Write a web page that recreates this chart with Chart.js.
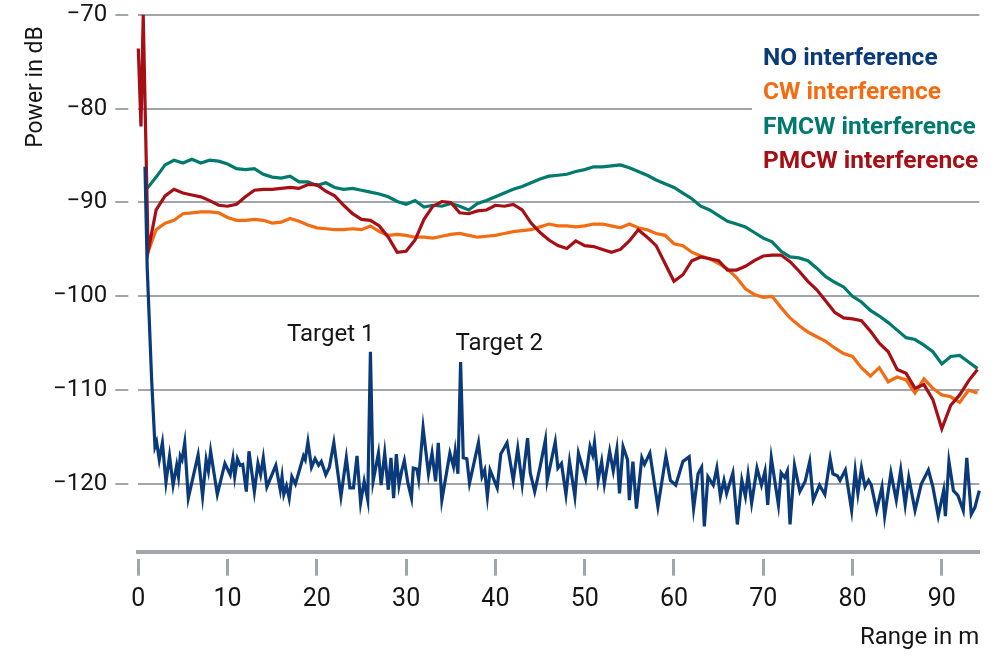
<!DOCTYPE html>
<html>
<head>
<meta charset="utf-8">
<script src="https://cdn.jsdelivr.net/npm/chart.js@4.4.1/dist/chart.umd.min.js"></script>
<style>
  html, body { margin: 0; padding: 0; background: #fff; }
</style>
</head>
<body>
<canvas id="myChart" width="1000" height="669"></canvas>
<script>
var ctx = document.getElementById("myChart");

var fontFamily = "Roboto, 'Liberation Sans', sans-serif";
var gray = "#a0a6a9";
var textColor = "#151515";

// legend / series
var seriesNames = ["NO interference", "CW interference", "FMCW interference", "PMCW interference"];
var seriesColors = ["#0a3a7a", "#f36c12", "#00796f", "#a50f15"];

// whole metres for the interference curves
var meters = [];
for (var m = 1; m <= 94; m++) meters.push(m);

var cwRange = meters;
var cwPower = [
  -95.5, -92.9, -92.2, -91.9, -91.2, -91.1, -91.0, -91.0, -91.1, -91.6,
  -91.9, -91.9, -91.8, -91.9, -92.2, -92.1, -91.7, -92.0, -92.4, -92.7,
  -92.8, -92.9, -92.9, -92.8, -92.9, -92.5, -93.1, -93.5, -93.4, -93.5,
  -93.7, -93.7, -93.8, -93.6, -93.4, -93.3, -93.5, -93.7, -93.6, -93.5,
  -93.3, -93.1, -93.0, -92.9, -92.6, -92.3, -92.5, -92.5, -92.6, -92.5,
  -92.3, -92.3, -92.5, -92.7, -92.3, -92.7, -92.9, -93.3, -93.5, -94.4,
  -94.6, -95.3, -95.7, -96.0, -96.5, -97.1, -98.0, -99.2, -99.8, -100.1,
  -100.0, -101.2, -102.3, -103.1, -103.8, -104.3, -104.8, -105.5, -106.1, -106.4,
  -107.6, -108.5, -107.6, -109.1, -108.6, -108.9, -110.3, -108.8, -109.8, -110.5,
  -110.7, -111.3, -110.0, -110.3
];

var fmcwRange = meters;
var fmcwPower = [
  -88.5, -87.3, -86.0, -85.5, -85.8, -85.4, -85.8, -85.5, -85.6, -85.9,
  -86.4, -86.5, -86.4, -87.0, -87.3, -87.4, -87.2, -87.8, -87.8, -88.2,
  -87.9, -88.4, -88.6, -88.5, -88.7, -88.9, -89.1, -89.4, -89.9, -90.2,
  -89.8, -90.5, -90.3, -90.4, -90.1, -90.4, -90.8, -90.1, -89.8, -89.4,
  -89.0, -88.6, -88.3, -87.9, -87.5, -87.2, -87.1, -87.0, -86.7, -86.5,
  -86.2, -86.2, -86.1, -86.0, -86.3, -86.7, -87.1, -87.6, -88.0, -88.4,
  -89.0, -89.6, -90.4, -90.8, -91.4, -92.0, -92.3, -92.6, -93.2, -93.8,
  -94.2, -95.2, -95.8, -95.9, -96.2, -97.0, -97.9, -98.5, -99.0, -100.0,
  -100.6, -101.5, -102.1, -102.8, -103.6, -104.4, -104.6, -105.2, -105.9, -107.2,
  -106.4, -106.3, -107.0, -107.7
];

var pmcwRange = [0, 0.3, 0.55, 1.1].concat(meters.slice(1));
var pmcwPower = [
  -73.6, -81.9, -70.0, -95.2,
  -90.8, -89.3, -88.6, -89.0, -89.2, -89.4, -89.8, -90.3, -90.4,
  -90.2, -89.4, -88.7, -88.6, -88.6, -88.5, -88.4, -88.5, -88.1, -88.1,
  -88.8, -89.3, -90.3, -91.2, -91.8, -91.9, -92.5, -93.7, -95.3, -95.2,
  -94.0, -91.8, -90.4, -89.9, -90.0, -91.1, -91.2, -90.9, -90.8, -90.3,
  -90.4, -90.2, -90.8, -92.2, -93.2, -94.0, -94.6, -94.9, -94.1, -94.6,
  -94.7, -95.0, -95.3, -95.0, -94.1, -92.9, -93.7, -94.6, -96.5, -98.4,
  -97.7, -96.2, -95.8, -96.0, -96.2, -97.2, -97.2, -96.8, -96.2, -95.7,
  -95.6, -95.6, -96.3, -97.3, -98.4, -99.3, -100.5, -101.7, -102.3, -102.4,
  -102.6, -103.7, -105.0, -105.9, -107.8, -108.2, -109.8, -109.4, -111.0, -114.1,
  -111.6, -110.5, -109.0, -107.8
];

var noRange = [
  0.75, 1.0, 1.5, 1.87, 2.05, 2.35, 2.7, 3.1, 3.5, 3.9,
  4.3, 4.5, 4.7, 4.9, 5.2, 5.6, 6.7, 7.2, 7.6, 7.85,
  8.1, 8.85, 9.7, 10.3, 10.6, 10.8, 11.1, 11.4, 11.7, 12.1,
  12.4, 13.0, 13.4, 13.7, 14.0, 14.4, 15.4, 15.9, 16.1, 16.3,
  16.6, 16.9, 17.2, 17.6, 18.5, 18.7, 19.0, 19.4, 19.8, 20.2,
  20.5, 21.0, 21.4, 21.9, 22.7, 23.3, 23.7, 24.1, 24.5, 24.9,
  25.3, 25.7, 26.0, 26.3, 26.9, 27.2, 27.6, 28.0, 28.3, 28.6,
  28.9, 29.2, 29.5, 29.8, 30.2, 30.6, 30.8, 31.2, 31.4, 31.9,
  32.5, 32.9, 33.3, 33.6, 34.0, 34.9, 35.3, 35.5, 35.8, 36.1,
  36.4, 36.8, 37.1, 38.1, 38.5, 38.8, 39.1, 39.4, 40.2, 40.6,
  41.3, 42.0, 42.5, 43.0, 43.6, 43.9, 44.4, 45.0, 45.6, 45.8,
  46.7, 47.0, 47.4, 47.9, 48.3, 48.9, 49.3, 50.1, 50.6, 50.9,
  51.1, 51.5, 51.9, 52.2, 52.8, 53.2, 53.6, 53.9, 54.3, 54.8,
  55.0, 55.4, 55.8, 56.4, 56.7, 57.3, 58.2, 59.1, 59.6, 60.2,
  61.0, 61.7, 62.2, 62.7, 63.1, 63.4, 63.8, 64.4, 64.8, 65.2,
  65.6, 65.9, 66.6, 67.1, 67.6, 68.0, 68.3, 68.7, 69.3, 69.8,
  70.2, 70.5, 70.9, 71.7, 72.0, 72.4, 72.7, 73.0, 73.5, 74.1,
  74.7, 75.2, 75.6, 76.3, 76.9, 77.5, 77.8, 78.3, 78.6, 79.2,
  79.9, 80.3, 80.6, 81.0, 81.4, 81.8, 82.1, 82.7, 83.3, 83.6,
  84.3, 84.9, 85.4, 85.9, 86.3, 87.0, 87.7, 88.5, 89.0, 89.6,
  90.2, 90.4, 90.8, 91.3, 91.8, 92.4, 92.8, 93.3, 93.7, 94.2
];
var noPower = [
  -86.2, -97.0, -109.0, -116.0, -115.5, -117.4, -115.6, -119.8, -117.0, -120.1,
  -118.0, -119.2, -117.0, -117.4, -115.6, -121.5, -116.9, -121.3, -117.4, -118.6,
  -116.5, -121.1, -117.8, -119.0, -117.3, -119.2, -117.3, -118.0, -117.9, -120.8,
  -116.5, -120.8, -117.8, -119.0, -117.2, -120.3, -118.0, -120.6, -119.2, -121.1,
  -120.2, -121.5, -119.2, -120.0, -117.0, -117.4, -115.5, -118.2, -117.3, -118.0,
  -117.6, -119.0, -118.2, -115.6, -121.3, -117.2, -120.4, -120.4, -117.0, -122.0,
  -119.7, -121.7, -105.9, -119.7, -116.7, -120.1, -116.7, -120.6, -117.2, -121.5,
  -116.8, -120.1, -118.6, -117.5, -119.9, -121.5, -118.3, -118.4, -119.5, -114.0,
  -118.9, -116.7, -119.7, -115.6, -121.7, -116.7, -118.1, -116.5, -118.9, -107.0,
  -117.2, -117.3, -119.9, -115.6, -119.2, -118.5, -121.3, -118.5, -120.4, -116.8,
  -115.6, -119.6, -116.2, -120.0, -115.1, -118.8, -120.8, -118.2, -115.3, -119.6,
  -115.5, -118.3, -117.8, -121.1, -117.6, -121.3, -116.7, -119.4, -116.0, -116.9,
  -115.6, -119.6, -117.6, -120.0, -116.5, -118.6, -116.3, -121.0, -116.0, -117.4,
  -121.7, -117.6, -122.6, -117.2, -117.9, -116.7, -122.4, -117.0, -119.6, -120.1,
  -117.6, -117.1, -122.6, -118.9, -118.2, -124.5, -119.2, -120.1, -118.3, -121.3,
  -119.6, -121.0, -118.8, -124.3, -119.6, -121.3, -119.0, -122.0, -118.3, -120.1,
  -118.6, -122.2, -117.2, -122.2, -118.8, -119.3, -118.6, -124.3, -118.0, -120.8,
  -119.7, -117.6, -121.7, -120.1, -121.1, -117.3, -118.9, -119.1, -119.6, -118.5,
  -122.8, -118.6, -121.0, -118.3, -120.3, -119.6, -120.1, -122.8, -120.3, -123.4,
  -118.8, -121.7, -118.5, -122.2, -119.3, -122.8, -120.0, -118.5, -120.3, -123.4,
  -120.7, -123.4, -117.6, -120.7, -121.2, -122.8, -117.2, -123.2, -122.5, -120.7
];

// annotations
var targetNames = ["Target 1", "Target 2"];
var targetRange = [26.0, 36.1];
var targetPower = [-105.9, -107.0];

// axes
var xMin = 0, xMax = 94.2, xStep = 10;
var yMin = -127.2, yMax = -70, yStep = 10;

function toPoints(xs, ys) {
  var pts = [];
  for (var i = 0; i < xs.length; i++) pts.push({ x: xs[i], y: ys[i] });
  return pts;
}

function noEdgePadding(s) {
  s.paddingTop = 0;
  s.paddingBottom = 0;
  s.paddingLeft = 0;
  s.paddingRight = 0;
}

var overlay = {
  id: "overlay",
  beforeDatasetsDraw: function (chart) {
    var c = chart.ctx;
    c.save();
    c.fillStyle = "#ffffff";
    c.fillRect(752, 30, 240, 150);
    c.restore();
  },
  afterDatasetsDraw: function (chart) {
    var c = chart.ctx;
    var xs = chart.scales.x;
    var ys = chart.scales.y;
    c.save();
    c.font = "bold 24.5px " + fontFamily;
    c.textAlign = "left";
    c.textBaseline = "alphabetic";
    for (var i = 0; i < seriesNames.length; i++) {
      c.fillStyle = seriesColors[i];
      c.fillText(seriesNames[i], 763, 65 + i * 34.4);
    }
    c.font = "24px " + fontFamily;
    c.fillStyle = textColor;
    c.textAlign = "right";
    c.fillText(targetNames[0], xs.getPixelForValue(targetRange[0]) + 4, ys.getPixelForValue(targetPower[0]) - 11);
    c.textAlign = "left";
    c.fillText(targetNames[1], xs.getPixelForValue(targetRange[1]) - 5, ys.getPixelForValue(targetPower[1]) - 12);
    c.restore();
  }
};

Chart.defaults.font.family = fontFamily;
Chart.defaults.font.size = 24;
Chart.defaults.color = textColor;

var myChart = new Chart(ctx, {
  type: "line",
  data: {
    datasets: [
      { label: seriesNames[0], data: toPoints(noRange, noPower), borderColor: seriesColors[0] },
      { label: seriesNames[3], data: toPoints(pmcwRange, pmcwPower), borderColor: seriesColors[3] },
      { label: seriesNames[1], data: toPoints(cwRange, cwPower), borderColor: seriesColors[1] },
      { label: seriesNames[2], data: toPoints(fmcwRange, fmcwPower), borderColor: seriesColors[2] },
    ],
  },
  options: {
    responsive: false,
    animation: false,
    devicePixelRatio: 1,
    layout: { padding: { left: 0, top: 14.7, right: 20.7, bottom: 0 } },
    elements: {
      line: { borderWidth: 3.2, tension: 0, fill: false },
      point: { radius: 0, hoverRadius: 0 },
    },
    datasets: { line: { clip: false } },
    scales: {
      x: {
        type: "linear",
        min: xMin,
        max: xMax,
        grid: {
          drawOnChartArea: false,
          drawTicks: true,
          tickLength: 24,
          tickWidth: 3,
          tickColor: gray,
          tickBorderDash: [17, 5],
          tickBorderDashOffset: 17,
        },
        border: { display: true, width: 4, color: gray },
        ticks: { stepSize: xStep, includeBounds: false, padding: 9, maxRotation: 0, autoSkip: false, font: { size: 25 } },
        title: { display: true, text: "Range in m", align: "end", padding: { top: 0, bottom: 17 } },
        afterFit: function (s) { s.height = 117.3; noEdgePadding(s); },
      },
      y: {
        min: yMin,
        max: yMax,
        grid: {
          color: gray,
          lineWidth: 2,
          tickLength: 23,
          tickWidth: 2,
          tickColor: gray,
          tickBorderDash: [13, 10],
        },
        border: { display: false },
        ticks: {
          stepSize: yStep,
          includeBounds: false,
          padding: 8,
          callback: function (v) { return v < 0 ? "\u2212" + Math.abs(v) : String(v); },
        },
        // trailing spaces nudge the rotated title down from the top edge
        title: { display: true, text: "Power in dB  ", align: "end", font: { size: 23 }, padding: { top: 22, bottom: 0 } },
        afterFit: function (s) { s.width = 138.3; noEdgePadding(s); },
      },
    },
    plugins: {
      legend: { display: false },
      tooltip: { enabled: false },
    },
  },
  plugins: [overlay],
});
</script>
</body>
</html>
